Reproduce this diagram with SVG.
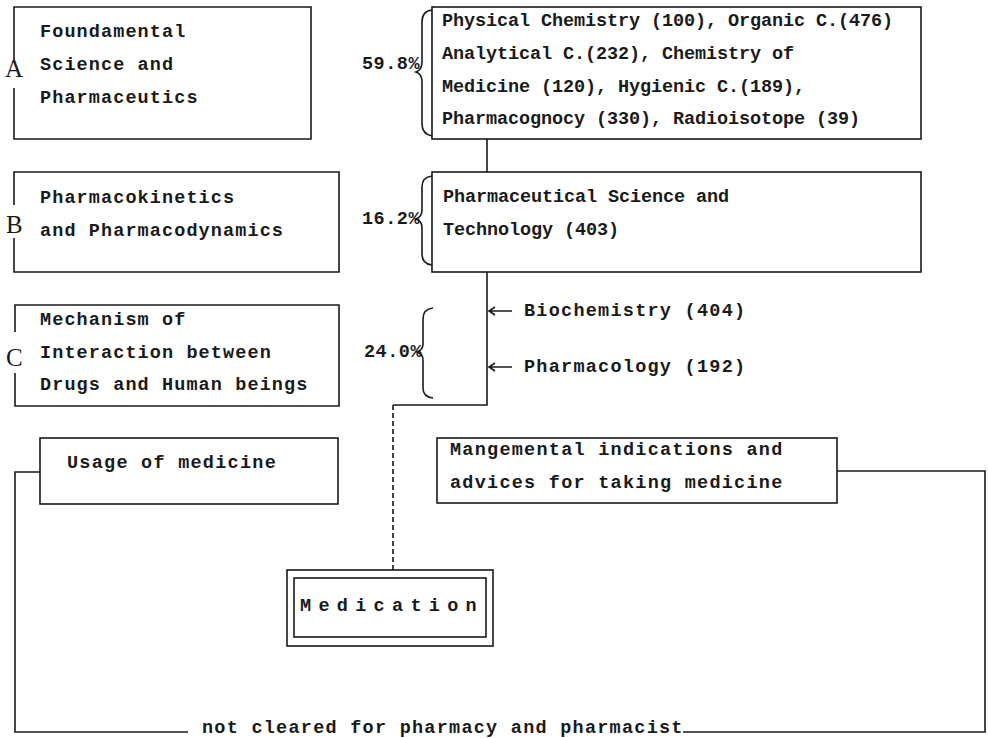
<svg xmlns="http://www.w3.org/2000/svg" width="988" height="738" viewBox="0 0 988 738">
<style>
.ln{fill:none;stroke:#1a1a1a;stroke-width:1.6}
.dash{fill:none;stroke:#1a1a1a;stroke-width:1.6;stroke-dasharray:5 3}
.t{font-family:"Liberation Mono","DejaVu Sans Mono",monospace;font-weight:bold;font-size:18.5px;fill:#1a1a1a}
.l{letter-spacing:1.1px}
.r{letter-spacing:-0.1px}
.p{letter-spacing:0.5px}
.m{letter-spacing:1.25px}
.big{font-family:"Liberation Serif","Times New Roman",serif;font-size:25px;fill:#1a1a1a}
</style>
<rect width="988" height="738" fill="#ffffff"/>
<g id="boxA">
<path class="ln" d="M14,60 L14,7 L311,7 L311,139 L14,139 L14,88"/>
<text class="big" x="5" y="77">A</text>
<text class="t l" x="40" y="37">Foundamental</text>
<text class="t l" x="40" y="70">Science and</text>
<text class="t l" x="40" y="103">Pharmaceutics</text>
</g>
<g id="boxB">
<path class="ln" d="M14,205 L14,172 L339,172 L339,272 L14,272 L14,238"/>
<text class="big" x="6" y="233">B</text>
<text class="t l" x="40" y="203">Pharmacokinetics</text>
<text class="t l" x="40" y="236">and Pharmacodynamics</text>
</g>
<g id="boxC">
<path class="ln" d="M15,332 L15,305 L339,305 L339,406 L15,406 L15,373"/>
<text class="big" x="6" y="366">C</text>
<text class="t l" x="40" y="325">Mechanism of</text>
<text class="t l" x="40" y="358">Interaction between</text>
<text class="t l" x="40" y="390">Drugs and Human beings</text>
</g>
<g id="pct">
<text class="t p" x="362" y="69">59.8%</text>
<text class="t p" x="362" y="224">16.2%</text>
<text class="t p" x="364" y="357">24.0%</text>
</g>
<g id="box1">
<rect class="ln" x="432" y="7" width="489" height="132"/>
<text class="t r" x="442" y="26">Physical Chemistry (100), Organic C.(476)</text>
<text class="t r" x="442" y="59">Analytical C.(232), Chemistry of</text>
<text class="t r" x="442" y="92">Medicine (120), Hygienic C.(189),</text>
<text class="t r" x="442" y="124">Pharmacognocy (330), Radioisotope (39)</text>
</g>
<g id="box2">
<rect class="ln" x="432" y="172" width="489" height="100"/>
<text class="t r" x="443" y="202">Pharmaceutical Science and</text>
<text class="t r" x="443" y="235">Technology (403)</text>
</g>
<g id="side">
<text class="t m" x="524" y="316">Biochemistry (404)</text>
<text class="t m" x="524" y="372">Pharmacology (192)</text>
</g>
<g id="usage">
<rect class="ln" x="40" y="438" width="298" height="66"/>
<text class="t m" x="67" y="468">Usage of medicine</text>
</g>
<g id="mang">
<rect class="ln" x="437" y="438" width="400" height="65"/>
<text class="t m" x="450" y="455">Mangemental indications and</text>
<text class="t m" x="450" y="488">advices for taking medicine</text>
</g>
<g id="medication">
<rect class="ln" x="287" y="570" width="206" height="76"/>
<rect class="ln" x="294" y="578" width="192" height="59"/>
<text class="t" x="300" y="611" style="letter-spacing:7.3px">Medication</text>
</g>
<g id="note">
<text class="t m" x="202" y="733">not cleared for pharmacy and pharmacist</text>
</g>
<g id="connectors">
<path class="ln" d="M432,10 Q422,11 422,22 L422,62 Q422,70 416,72 Q422,74 422,82 L422,124 Q422,134 432,136"/>
<path class="ln" d="M432,176 Q422,177 422,187 L422,210 Q422,217 416,219 Q422,221 422,228 L422,254 Q422,264 432,265"/>
<path class="ln" d="M433,308 Q423,309 423,319 L423,344 Q423,350 417,352 Q423,354 423,360 L423,388 Q423,397 433,398"/>
<path class="ln" d="M487,139 L487,172"/>
<path class="ln" d="M487,272 L487,405 L393,405"/>
<path class="dash" d="M393,405 L393,570"/>
<path class="ln" d="M512,311 L489,311 M495,307 L489,311 L495,315"/>
<path class="ln" d="M512,367 L489,367 M495,363 L489,367 L495,371"/>
<path class="ln" d="M40,472 L15,472 L15,732 L188,732"/>
<path class="ln" d="M683,732 L985,732 L985,471 L837,471"/>
</g>
</svg>
